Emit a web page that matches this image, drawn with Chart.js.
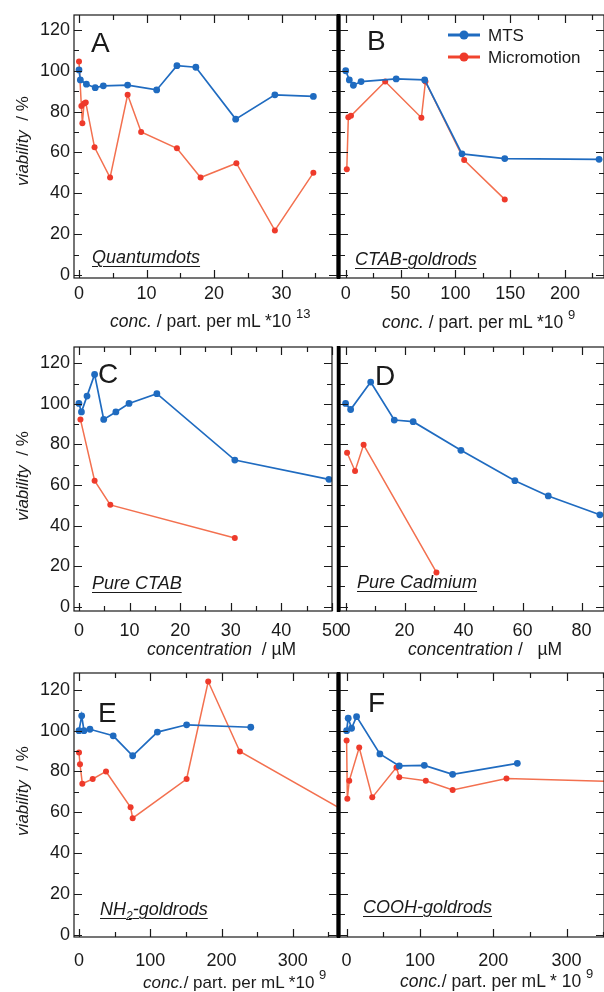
<!DOCTYPE html>
<html>
<head>
<meta charset="utf-8">
<script src="https://cdn.jsdelivr.net/npm/chart.js@4.4.1/dist/chart.umd.min.js"></script>
<style>
  html, body { margin: 0; padding: 0; background: #fff; overflow: hidden; }
  #fig { position: relative; width: 604px; height: 992px; overflow: hidden;
         font-family: "Liberation Sans", Arial, sans-serif; color: #1a1a1a; }
  #fig canvas { position: absolute; }
  .t { position: absolute; white-space: nowrap; line-height: 1; }
  .mat { font-style: italic; text-decoration: underline; text-decoration-thickness: 1px; text-underline-offset: 3px; }
  .sp { position: relative; font-size: 13px; }
  .yt { position: absolute; white-space: nowrap; font-size: 17px; line-height: 1;
        transform: translate(-50%, -50%) rotate(-90deg); }
</style>
</head>
<body>
<div id="fig">
  <canvas id="cA"></canvas><canvas id="cB"></canvas>
  <canvas id="cC"></canvas><canvas id="cD"></canvas>
  <canvas id="cE"></canvas><canvas id="cF"></canvas>
</div>
<script>
// ---- datos ----
// A: Quantumdots (x: part. per mL *10^13)
const aMtsX = [0, 0.2, 1.1, 2.4, 3.6, 7.2, 11.5, 14.5, 17.3, 23.2, 29, 34.7];
const aMtsY = [100.4, 95.5, 93.4, 91.7, 92.6, 93, 90.6, 102.5, 101.7, 76.3, 88.2, 87.4];
const aMicX = [0, 0.35, 0.5, 0.75, 1.0, 2.3, 4.6, 7.2, 9.2, 14.5, 18, 23.3, 29, 34.7];
const aMicY = [104.5, 82.7, 74.3, 84, 84.5, 62.5, 47.7, 88.2, 70, 62, 47.7, 54.7, 21.8, 50];

// B: CTAB-goldrods (x: part. per mL *10^9)
const bMtsX = [0, 3.3, 7, 14, 46, 72, 106, 145, 231];
const bMtsY = [100, 95.5, 92.9, 94.7, 96, 95.5, 59.3, 57, 56.6];
const bMicX = [1, 2.4, 4.8, 36, 69, 72.7, 108, 145];
const bMicY = [51.8, 77.2, 77.9, 94.7, 77, 94.7, 56.3, 37];

// C: Pure CTAB (x: µM)
const cMtsX = [0, 0.5, 1.6, 3.1, 4.9, 7.3, 9.9, 15.4, 30.8, 49.4];
const cMtsY = [100.2, 96, 103.8, 114.5, 92.3, 96, 100.2, 105, 72.3, 62.8];
const cMicX = [0.3, 3.1, 6.2, 30.8];
const cMicY = [92.3, 62.1, 50.2, 33.9];

// D: Pure Cadmium (x: µM)
const dMtsX = [0, 1.7, 8.5, 16.5, 22.9, 39.1, 57.4, 68.7, 86.2];
const dMtsY = [100.2, 97.2, 110.7, 92, 91.2, 77.1, 62.1, 54.6, 45.3];
const dMicX = [0.5, 3.2, 6.1, 30.8];
const dMicY = [75.9, 66.9, 79.8, 16.9];

// E: NH2-goldrods
const eMtsX = [0, 3.8, 7, 15.4, 48, 75.3, 110, 151, 241];
const eMtsY = [100, 107.3, 100, 100.7, 97.5, 87.7, 99.3, 102.9, 101.7];
const eMicX = [0, 1.4, 4.7, 19.2, 37.9, 72.4, 75.3, 151, 181.3, 225.7, 370];
const eMicY = [89.3, 83.6, 74, 76.3, 80, 62.4, 57.1, 76.3, 124.1, 89.8, 61.2];

// F: COOH-goldrods
const fMtsX = [0, 2.2, 6.8, 13.6, 45.4, 71.8, 106, 144.6, 232.8];
const fMtsY = [100, 106.1, 101.2, 106.9, 88.6, 82.7, 83, 78.6, 84];
const fMicX = [0, 1, 3.6, 17.2, 35, 68, 71.8, 108, 144.6, 218, 360];
const fMicY = [95.2, 66.6, 75.4, 91.7, 67.3, 82, 77.2, 75.4, 70.9, 76.6, 75.1];

const yTickStep = 20;
const yMinorStep = 10;

// ---- estilo ----
const AZUL = '#1f6bc0';
const ROJO_LINEA = '#f3704f';
const ROJO_PUNTO = '#ee3a2b';
const NEGRO = '#1a1a1a';
const FUENTE = '"Liberation Sans", Arial, sans-serif';

// filas y columnas del panel (px de pagina)
const FILAS = [
  { top: 15,  bottom: 278, ymin: -1.5, ymax: 127.3, pad: 5 },
  { top: 347, bottom: 611, ymin: -2.1, ymax: 128,   pad: 9 },
  { top: 673, bottom: 937, ymin: -1.2, ymax: 128.3, pad: 13 }
];
const COLS = [
  { cLeft: 0,   left: 74,  right: 337 },
  { cLeft: 328, left: 340, right: 604 }
];

function puntos(xs, ys) {
  return xs.map((v, i) => ({ x: v, y: ys[i] }));
}

// marco con ticks hacia adentro en los cuatro lados
const marcoTicks = {
  id: 'marcoTicks',
  afterDraw(chart, args, opts) {
    const { ctx, chartArea: a, scales: { x, y } } = chart;
    ctx.save();
    ctx.strokeStyle = NEGRO;
    ctx.lineWidth = 1.2;
    ctx.strokeRect(a.left, a.top, a.right - a.left, a.bottom - a.top);
    ctx.beginPath();
    const esMayor = (v, m) => Math.abs(v / m - Math.round(v / m)) < 1e-6;
    for (let v = Math.ceil(x.min / opts.xMinor) * opts.xMinor; v <= x.max; v += opts.xMinor) {
      const px = Math.round(x.getPixelForValue(v)) + 0.5;
      const l = esMayor(v, opts.xMajor) ? 8 : 5;
      ctx.moveTo(px, a.bottom); ctx.lineTo(px, a.bottom - l);
      ctx.moveTo(px, a.top); ctx.lineTo(px, a.top + l);
    }
    for (let v = Math.ceil(y.min / yMinorStep) * yMinorStep; v <= y.max; v += yMinorStep) {
      const py = Math.round(y.getPixelForValue(v)) + 0.5;
      const l = esMayor(v, yTickStep) ? 8 : 5;
      ctx.moveTo(a.left, py); ctx.lineTo(a.left + l, py);
      ctx.moveTo(a.right, py); ctx.lineTo(a.right - l, py);
    }
    ctx.stroke();
    if (opts.divisor) {
      ctx.beginPath();
      ctx.strokeStyle = '#000';
      ctx.lineWidth = 3.5;
      ctx.moveTo(a.left - 1.5, a.top - 1);
      ctx.lineTo(a.left - 1.5, a.bottom + 1);
      ctx.stroke();
    }
    ctx.restore();
  }
};

// leyenda del panel B
const leyenda = {
  id: 'leyenda',
  afterDraw(chart, args, opts) {
    if (!opts.mostrar) return;
    const { ctx, chartArea: a } = chart;
    ctx.save();
    chart.data.datasets.forEach((ds, i) => {
      const yy = a.top + 20 + i * 22;
      const x0 = a.left + 108, x1 = a.left + 140;
      ctx.strokeStyle = i === 0 ? AZUL : '#f0442e';
      ctx.lineWidth = 3;
      ctx.beginPath(); ctx.moveTo(x0, yy); ctx.lineTo(x1, yy); ctx.stroke();
      ctx.fillStyle = i === 0 ? AZUL : ROJO_PUNTO;
      ctx.beginPath(); ctx.arc((x0 + x1) / 2, yy, 4.5, 0, Math.PI * 2); ctx.fill();
      ctx.fillStyle = NEGRO;
      ctx.font = '17px ' + FUENTE;
      ctx.textBaseline = 'middle';
      ctx.fillText(ds.label, a.left + 148, yy + 1);
    });
    ctx.restore();
  }
};

function panel(id, fila, col, o) {
  const F = FILAS[fila], C = COLS[col];
  const cv = document.getElementById(id);
  const w = C.right - C.cLeft + 14;
  const h = 15 + (F.bottom - F.top) + 40;
  cv.width = w; cv.height = h;
  cv.style.left = C.cLeft + 'px';
  cv.style.top = (F.top - 15) + 'px';
  const yAncho = C.left - C.cLeft;

  new Chart(cv, {
    type: 'line',
    data: {
      datasets: [
        { label: 'MTS', data: puntos(o.mtsX, o.mtsY), borderColor: AZUL, backgroundColor: AZUL,
          pointBackgroundColor: AZUL, pointBorderColor: AZUL, borderWidth: 1.7, pointRadius: 3.4,
          pointBorderWidth: 0, tension: 0 },
        { label: 'Micromotion', data: puntos(o.micX, o.micY), borderColor: ROJO_LINEA, backgroundColor: ROJO_PUNTO,
          pointBackgroundColor: ROJO_PUNTO, pointBorderColor: ROJO_PUNTO, borderWidth: 1.5, pointRadius: 3,
          pointBorderWidth: 0, tension: 0 }
      ]
    },
    options: {
      responsive: false,
      animation: false,
      devicePixelRatio: 1,
      layout: { padding: { top: 15, right: 14, left: 0, bottom: 0 } },
      plugins: {
        legend: { display: false },
        tooltip: { enabled: false },
        marcoTicks: { xMajor: o.xMajor, xMinor: o.xMajor / 2, divisor: col === 1 },
        leyenda: { mostrar: !!o.leyenda }
      },
      scales: {
        x: {
          type: 'linear', min: o.xmin, max: o.xmax,
          grid: { display: false, drawTicks: false }, border: { display: false },
          ticks: { stepSize: o.xMajor, includeBounds: false, autoSkip: false, maxRotation: 0,
                   padding: F.pad, color: NEGRO, font: { family: FUENTE, size: 18 } },
          afterFit: s => { s.height = 40; }
        },
        y: {
          type: 'linear', min: F.ymin, max: F.ymax,
          grid: { display: false, drawTicks: false }, border: { display: false },
          ticks: { display: col === 0, stepSize: yTickStep, includeBounds: false, autoSkip: false,
                   padding: 4, color: NEGRO, font: { family: FUENTE, size: 18 } },
          afterFit: s => { s.width = yAncho; }
        }
      }
    },
    plugins: [marcoTicks, leyenda]
  });
}

panel('cA', 0, 0, { mtsX: aMtsX, mtsY: aMtsY, micX: aMicX, micY: aMicY, xmin: -0.74, xmax: 38.2, xMajor: 10 });
panel('cB', 0, 1, { mtsX: bMtsX, mtsY: bMtsY, micX: bMicX, micY: bMicY, xmin: -5.2, xmax: 235.5, xMajor: 50, leyenda: true });
panel('cC', 1, 0, { mtsX: cMtsX, mtsY: cMtsY, micX: cMicX, micY: cMicY, xmin: -0.97, xmax: 50, xMajor: 10 });
panel('cD', 1, 1, { mtsX: dMtsX, mtsY: dMtsY, micX: dMicX, micY: dMicY, xmin: -1.9, xmax: 87.6, xMajor: 20 });
panel('cE', 2, 0, { mtsX: eMtsX, mtsY: eMtsY, micX: eMicX, micY: eMicY, xmin: -7, xmax: 362, xMajor: 100 });
panel('cF', 2, 1, { mtsX: fMtsX, mtsY: fMtsY, micX: fMicX, micY: fMicY, xmin: -9, xmax: 351, xMajor: 100 });

// ---- textos ----
const fig = document.getElementById('fig');
function poner(html, x, base, size, clase) {
  const d = document.createElement('div');
  d.className = 't' + (clase ? ' ' + clase : '');
  d.style.fontSize = size + 'px';
  d.style.left = x + 'px';
  d.style.top = (base - 0.8465 * size) + 'px';
  d.innerHTML = html;
  fig.appendChild(d);
}
function ponerY(html, cx, cy) {
  const d = document.createElement('div');
  d.className = 'yt';
  d.style.left = cx + 'px';
  d.style.top = cy + 'px';
  d.innerHTML = html;
  fig.appendChild(d);
}

// letras de panel
poner('A', 91, 53, 28);
poner('B', 367, 51, 28);
poner('C', 98, 384, 28);
poner('D', 375, 386, 28);
poner('E', 98, 723, 28);
poner('F', 368, 713, 28);

// nombres de material
poner('Quantumdots', 92, 263, 18, 'mat');
poner('CTAB-goldrods', 355, 265, 18, 'mat');
poner('Pure CTAB', 92, 589, 18, 'mat');
poner('Pure Cadmium', 357, 588, 18, 'mat');
poner('NH<sub style="font-size:12px;line-height:0">2</sub>-goldrods', 100, 915, 18, 'mat');
poner('COOH-goldrods', 363, 913, 18, 'mat');

// titulos de eje x
const sup = s => ' <span class="sp" style="top:-9px">' + s + '</span>';
poner('<i>conc.</i> / part. per mL *10' + sup('13'), 110, 328, 17.5);
poner('<i>conc.</i> / part. per mL *10' + sup('9'), 382, 329, 17.5);
poner('<i>concentration</i>&nbsp; / µM', 147, 656, 17.5);
poner('<i>concentration</i> /&nbsp;&nbsp; µM', 408, 656, 17.5);
poner('<i>conc.</i>/ part. per mL *10' + sup('9'), 143, 988, 17);
poner('<i>conc.</i>/ part. per mL * 10' + sup('9'), 400, 988, 17.5);

// titulos de eje y
ponerY('<i>viability</i>&nbsp; / %', 22, 141);
ponerY('<i>viability</i>&nbsp; / %', 22, 476);
ponerY('<i>viability</i>&nbsp; / %', 22, 791);
</script>
</body>
</html>
